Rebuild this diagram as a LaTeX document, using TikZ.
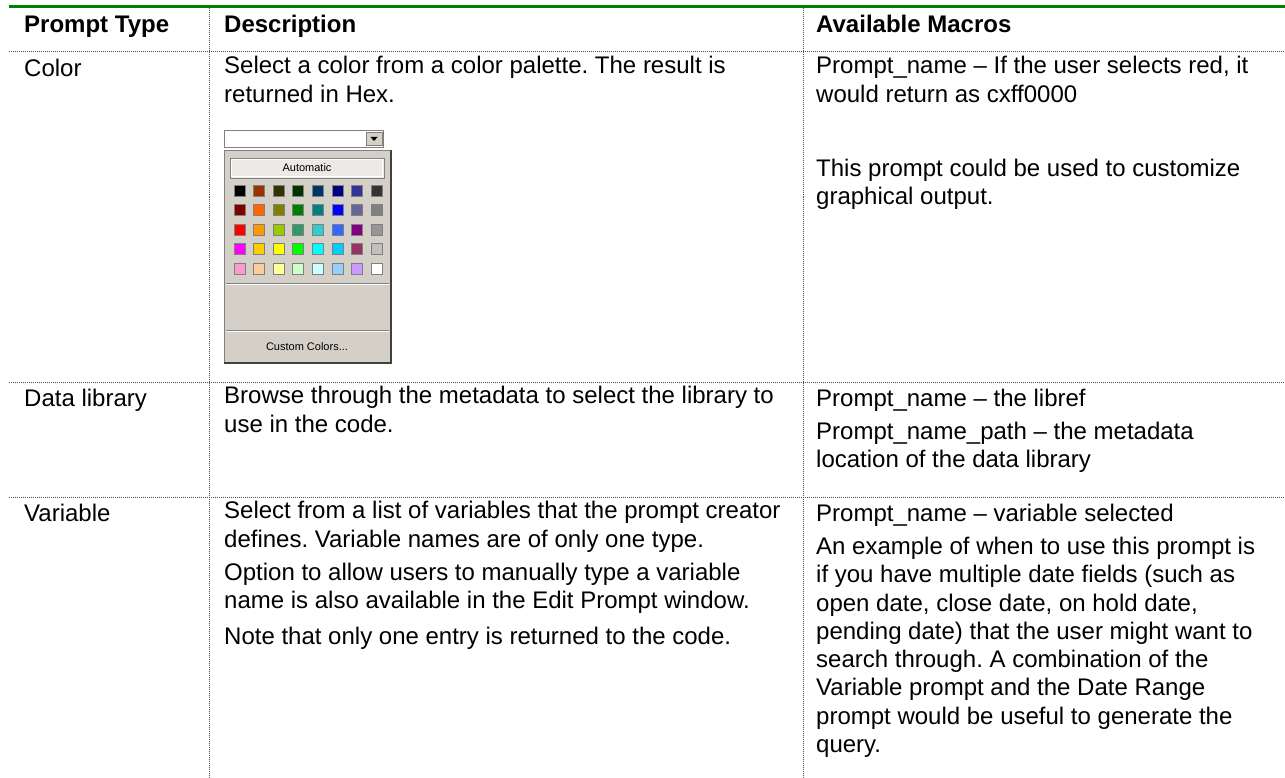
\documentclass[tikz,border=0pt]{standalone}
\usepackage{fontspec}
\setmainfont{Liberation Sans}
\usepackage{tikz}
\usetikzlibrary{positioning}
\usetikzlibrary{calc}
\frenchspacing

\definecolor{rulegreen}{RGB}{0,128,0}
\definecolor{dotgray}{RGB}{80,80,80}
\definecolor{winface}{HTML}{D4D0C8}
\definecolor{winshadow}{HTML}{808080}
\definecolor{windark}{HTML}{404040}

\tikzstyle{cell} = [anchor = north west, inner sep = 0pt, align = left, font = \fontsize{24}{28.3}\selectfont, execute at begin node = \strut, execute at end node = \strut]
\tikzstyle{head} = [cell, font = \fontsize{24}{28.3}\selectfont\bfseries]
\tikzstyle{dotrule} = [dotgray, line width = 1pt, dash pattern = on 1pt off 1pt]
\tikzstyle{swatch} = [draw = winshadow, line width = 1pt, minimum size = 11pt, inner sep = 0pt]
\tikzstyle{wintext} = [font = \fontsize{11}{13}\selectfont, inner sep = 0pt]

\begin{document}
\begin{tikzpicture}[x = 1pt, y = -1pt]
	\useasboundingbox (0,0) rectangle (1285,778);
	
	% Table rules
	\draw[rulegreen, line width = 3.5pt] (9,6.5) -- (1285,6.5);
	\draw[dotrule] (9,52) -- (1285,52);
	\draw[dotrule] (9,382) -- (1285,382);
	\draw[dotrule] (9,497) -- (1285,497);
	\draw[dotrule] (209,8.5) -- (209,778);
	\draw[dotrule] (803,8.5) -- (803,778);
	
	% Header row
	\node[head] (typeHead) at (24,12.2) {Prompt Type};
	\node[head] (descHead) at (224,12.2) {Description};
	\node[head] (macroHead) at (816,12.2) {Available Macros};
	
	% Color row
	\node[cell] (typeColor) at (24,56.2) {Color};
	\node[cell] (descColor) at (224,56.2) {Select a color from a color palette. The result is\\returned in Hex.};
	\node[cell] (macroColor) at (816,56.2) {Prompt\_name – If the user selects red, it\\would return as cxff0000};
	\node[cell, below right = 48pt and 0pt of macroColor.south west] (macroColorUse) {This prompt could be used to customize\\graphical output.};
	
	% Color palette drop-down
	\draw[winshadow, fill = white] (224,130) rectangle (383,147);
	\draw[winshadow, fill = winface] (366,132) rectangle (382,145);
	\fill (370.5,137) -- (377.5,137) -- (374,141) -- cycle;
	\draw[winshadow, fill = winface] (224,150) rectangle (391,363);
	\draw[windark, line width = 1.5pt] (391,150) -- (391,363) -- (224,363);
	\draw[winshadow, fill = white!55!winface] (230,158) rectangle (384,178);
	\draw[white] (231.5,159.5) rectangle (382.5,176.5);
	\node[wintext] (auto) at (307,168) {Automatic};
	\foreach \hex [count = \i from 0] in {000000,993300,333300,003300,003366,000080,333399,333333,
		800000,FF6600,808000,008000,008080,0000FF,666699,808080,
		FF0000,FF9900,99CC00,339966,33CCCC,3366FF,800080,969696,
		FF00FF,FFCC00,FFFF00,00FF00,00FFFF,00CCFF,993366,C0C0C0,
		FF99CC,FFCC99,FFFF99,CCFFCC,CCFFFF,99CCFF,CC99FF,FFFFFF} {
		\definecolor{swatchfill}{HTML}{\hex}
		\pgfmathsetmacro{\col}{mod(\i,8)}
		\pgfmathsetmacro{\row}{int(\i/8)}
		\node[swatch, fill = swatchfill] at (239.5 + 19.6*\col, 191 + 19.4*\row) {};
	}
	\draw[winshadow] (226,283) -- (389,283);
	\draw[white] (226,284) -- (389,284);
	\draw[winshadow] (226,330) -- (389,330);
	\draw[white] (226,331) -- (389,331);
	\node[wintext] (custom) at (307,347) {Custom Colors...};
	
	% Data library row
	\node[cell] (typeLib) at (24,386.2) {Data library};
	\node[cell] (descLib) at (224,386.2) {Browse through the metadata to select the library to\\use in the code.};
	\node[cell] (macroLib) at (816,386.2) {Prompt\_name – the libref};
	\node[cell, below right = 7pt and 0pt of macroLib.south west] (macroLibPath) {Prompt\_name\_path – the metadata\\location of the data library};
	
	% Variable row
	\node[cell] (typeVar) at (24,501.2) {Variable};
	\node[cell] (descVar) at (224,501.2) {Select from a list of variables that the prompt creator\\defines. Variable names are of only one type.};
	\node[cell, below right = 7pt and 0pt of descVar.south west] (descVarOpt) {Option to allow users to manually type a variable\\name is also available in the Edit Prompt window.};
	\node[cell, below right = 7pt and 0pt of descVarOpt.south west] (descVarNote) {Note that only one entry is returned to the code.};
	\node[cell] (macroVar) at (816,501.2) {Prompt\_name – variable selected};
	\node[cell, below right = 7pt and 0pt of macroVar.south west] (macroVarEx) {An example of when to use this prompt is\\if you have multiple date fields (such as\\open date, close date, on hold date,\\pending date) that the user might want to\\search through. A combination of the\\Variable prompt and the Date Range\\prompt would be useful to generate the\\query.};
	
\end{tikzpicture}
\end{document}
